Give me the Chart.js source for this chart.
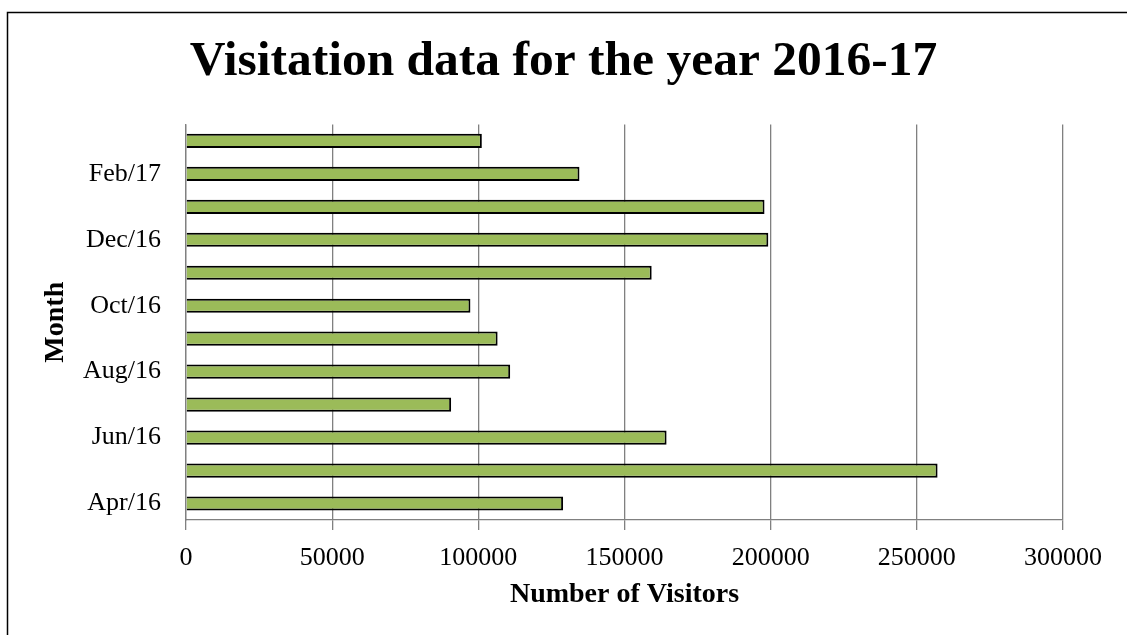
<!DOCTYPE html>
<html lang="en">

<head>
    <meta charset="UTF-8">
    <title>Visitation data</title>
    <script src="https://cdn.jsdelivr.net/npm/chart.js"></script>
    <style>
        html, body { margin: 0; padding: 0; background: #fff; }
        #grafico { width: 1127px; height: 635px; position: relative; }
    </style>
</head>

<body>
    <div id="grafico">
        <canvas id="myChart"></canvas>
    </div>

<script>
    // dados (abr/16 a mar/17)
    var meses = ['Apr/16', 'May/16', 'Jun/16', 'Jul/16', 'Aug/16', 'Sep/16',
        'Oct/16', 'Nov/16', 'Dec/16', 'Jan/17', 'Feb/17', 'Mar/17']
    var visitantes = [129000, 257100, 164400, 90700, 110900, 106600,
        97300, 159300, 199200, 197900, 134600, 101200]
    var xTicks = ['0', '50000', '100000', '150000', '200000', '250000', '300000']

    var fonte = "'Liberation Serif', 'Times New Roman', serif"
    var cinza = '#808080'

    // moldura do gráfico (só aparecem topo e esquerda)
    const moldura = {
        id: 'moldura',
        beforeDraw(chart) {
            const c = chart.ctx
            c.save()
            c.fillStyle = '#fff'
            c.fillRect(0, 0, chart.width, chart.height)
            c.strokeStyle = '#000'
            c.lineWidth = 1.5
            c.strokeRect(7.5, 12.5, chart.width + 20, chart.height + 20)
            c.restore()
        }
    }

    const ctx = document.getElementById('myChart')

    new Chart(ctx, {
        type: 'bar',
        data: {
            labels: meses,
            datasets: [{
                label: 'Visitors',
                data: visitantes,
                backgroundColor: '#9BBB59',
                borderColor: '#000',
                borderWidth: 2,
                barPercentage: 0.43,
                categoryPercentage: 1
            }]
        },
        options: {
            indexAxis: 'y',
            responsive: true,
            maintainAspectRatio: false,
            animation: false,
            plugins: {
                legend: { display: false },
                tooltip: { enabled: false },
                title: {
                    display: true,
                    text: 'Visitation data for the year 2016-17',
                    color: '#000',
                    font: { family: fonte, size: 49.5, weight: 'bold' },
                    padding: { top: 33, bottom: 32 }
                }
            },
            scales: {
                x: {
                    min: 0,
                    max: 300000,
                    ticks: {
                        stepSize: 50000,
                        color: '#000',
                        padding: 13,
                        maxRotation: 0,
                        font: { family: fonte, size: 26 },
                        callback: function (v, i) { return xTicks[i] }
                    },
                    grid: { color: cinza, lineWidth: 1.3, tickLength: 10 },
                    border: { color: cinza, width: 1.3 },
                    title: {
                        display: true,
                        text: 'Number of Visitors',
                        color: '#000',
                        font: { family: fonte, size: 28, weight: 'bold' },
                        padding: { top: 0, bottom: 23 }
                    },
                    afterFit: function (scale) { scale.height = 115 }
                },
                y: {
                    reverse: true,
                    ticks: {
                        autoSkip: false,
                        color: '#000',
                        padding: 25,
                        font: { family: fonte, size: 26 },
                        callback: function (v, i) { return i % 2 == 0 ? meses[i] : '' }
                    },
                    grid: { display: false, drawTicks: false },
                    border: { color: cinza, width: 1.3 },
                    title: {
                        display: true,
                        text: 'Month',
                        color: '#000',
                        font: { family: fonte, size: 28, weight: 'bold' },
                        padding: { top: 39, bottom: 0 }
                    },
                    afterFit: function (scale) { scale.width = 186 }
                },
                // eixo vazio só para reservar a margem da direita sem descentralizar o título
                margem: {
                    type: 'category',
                    position: 'right',
                    ticks: { display: false },
                    grid: { display: false },
                    border: { display: false },
                    afterFit: function (scale) { scale.width = 64 }
                }
            }
        },
        plugins: [moldura]
    });
</script>
</body>

</html>
